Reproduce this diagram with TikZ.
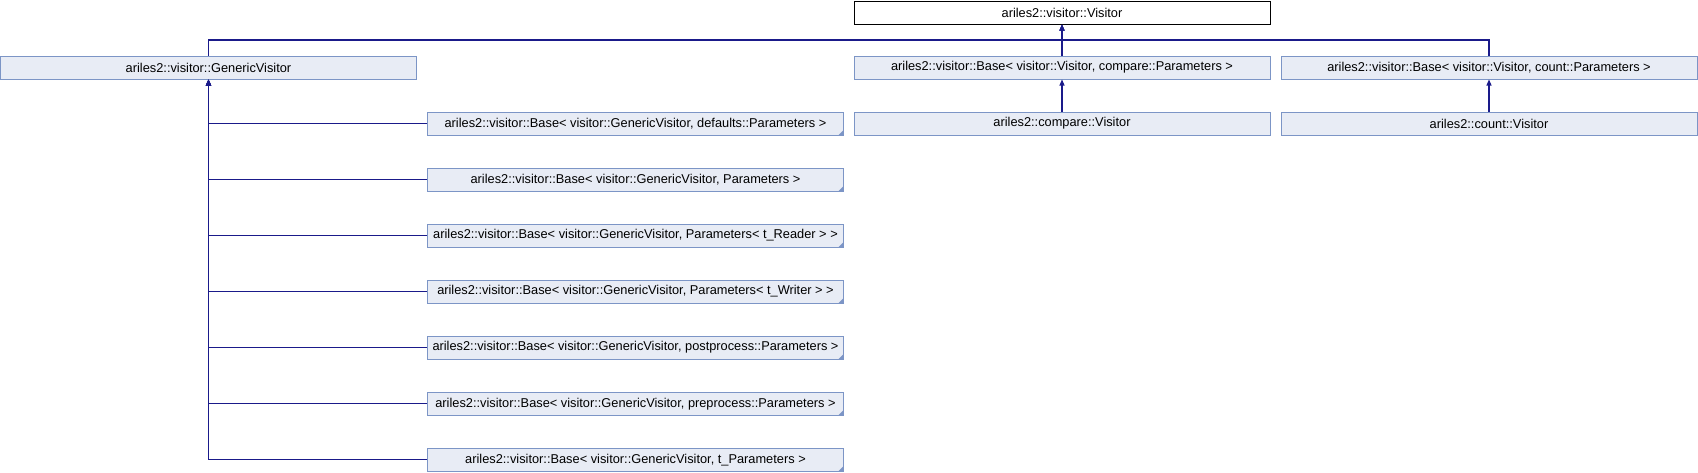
\documentclass[tikz,border=0pt]{standalone}
\usepackage{fontspec}
\setmainfont{Liberation Sans}
\usetikzlibrary{arrows.meta}
\definecolor{boxfill}{HTML}{E8ECF5}
\definecolor{boxdraw}{HTML}{7C95C6}
\definecolor{edgecol}{HTML}{1A1A8A}
\tikzset{
  cls/.style={draw=boxdraw, fill=boxfill, line width=1pt, minimum width=416pt, minimum height=23pt, inner sep=0pt, font=\fontsize{12.8}{14}\selectfont},
  rootcls/.style={cls, draw=black, fill=white},
  linked/.style={cls, path picture={\fill[boxdraw] (path picture bounding box.south east) -- ++(-5pt,0) -- ++(5pt,5pt) -- cycle;}},
  arr/.style={draw=edgecol, line width=1.1pt, -{Triangle[length=6pt,width=5pt]}},
}
\begin{document}
\begin{tikzpicture}[x=1pt,y=-1pt]
\useasboundingbox (0,0) rectangle (1698,472);
\node[rootcls] (top) at (1062,12.5) {ariles2::visitor::Visitor};
\node[cls] (generic) at (208.5,67.5) {ariles2::visitor::GenericVisitor};
\node[cls] (cmpbase) at (1062,67.5) {ariles2::visitor::Base< visitor::Visitor, compare::Parameters >};
\node[cls] (cntbase) at (1489,67.5) {ariles2::visitor::Base< visitor::Visitor, count::Parameters >};
\node[cls] (cmpvis) at (1062,123.5) {ariles2::compare::Visitor};
\node[cls] (cntvis) at (1489,123.5) {ariles2::count::Visitor};
\node[linked] (l1) at (635.5,123.5) {ariles2::visitor::Base< visitor::GenericVisitor, defaults::Parameters >};
\node[linked] (l2) at (635.5,179.5) {ariles2::visitor::Base< visitor::GenericVisitor, Parameters >};
\node[linked] (l3) at (635.5,235.6) {ariles2::visitor::Base< visitor::GenericVisitor, Parameters< t\_Reader > >};
\node[linked] (l4) at (635.5,291.6) {ariles2::visitor::Base< visitor::GenericVisitor, Parameters< t\_Writer > >};
\node[linked] (l5) at (635.5,347.6) {ariles2::visitor::Base< visitor::GenericVisitor, postprocess::Parameters >};
\node[linked] (l6) at (635.5,403.7) {ariles2::visitor::Base< visitor::GenericVisitor, preprocess::Parameters >};
\node[linked] (l7) at (635.5,459.7) {ariles2::visitor::Base< visitor::GenericVisitor, t\_Parameters >};
\coordinate (j) at (1062,40);
\draw[arr] (generic.north) |- (j) -- (top);
\draw[arr] (cntbase.north) |- (j) -- (top);
\draw[arr] (cmpbase) -- (top);
\draw[arr] (cmpvis) -- (cmpbase);
\draw[arr] (cntvis) -- (cntbase);
\foreach \i in {1,...,7} {\draw[arr] (l\i.west) -| (generic.south);}
\end{tikzpicture}
\end{document}
